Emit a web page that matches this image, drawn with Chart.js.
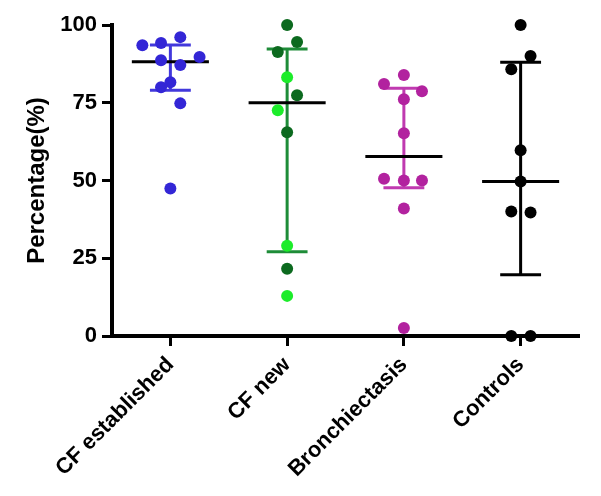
<!DOCTYPE html>
<html>
<head>
<meta charset="utf-8">
<script src="https://cdn.jsdelivr.net/npm/chart.js@4.4.1/dist/chart.umd.min.js"></script>
<style>
  body { margin: 0; background: #fff; }
  canvas { display: block; }
</style>
</head>
<body>
<canvas id="myChart" width="601" height="496"></canvas>
<script>
// categories + tick labels
const categories = ['CF established', 'CF new', 'Bronchiectasis', 'Controls'];
const yTicks = [0, 25, 50, 75, 100];

// individual values (%)
const cfEstablished = [93.5, 94.2, 96.1, 88.7, 87.1, 89.7, 80, 81.6, 74.8, 47.4];
const cfNewDark = [100, 94.5, 91.3, 77.4, 65.5, 21.6];
const cfNewLight = [83.2, 72.6, 29, 12.9];
const bronchiectasis = [83.9, 81, 78.7, 76.1, 65.2, 50.6, 50, 50, 41, 2.6];
const controls = [100, 90, 85.8, 59.7, 49.7, 40, 39.7, 0, 0];

// median and interquartile range per group
const medians = [88.2, 75, 57.7, 49.7];
const upper = [93.6, 92.3, 79.7, 88];
const lower = [79, 27.1, 47.7, 19.7];

// sideways spread of the dots (fraction of a category), so equal values don't hide each other
const spread = {
  cfEstablished: [-0.24, -0.08, 0.085, -0.08, 0.085, 0.25, -0.08, 0, 0.085, 0],
  cfNewDark: [0, 0.085, -0.08, 0.085, 0, 0],
  cfNewLight: [0, -0.08, 0, 0],
  bronchiectasis: [0, -0.17, 0.155, 0, 0, -0.17, 0, 0.155, 0, 0],
  controls: [0, 0.085, -0.08, 0, 0, -0.08, 0.085, -0.08, 0.085]
};

const whiskerColors = ['#4238dc', '#1e8c38', '#c03ab0', '#000000'];

function pts(values, group, offs) {
  return values.map((v, i) => ({ x: group + offs[i], y: v }));
}

// median line + IQR whiskers drawn under the dots
const statLines = {
  id: 'statLines',
  beforeDatasetsDraw(chart) {
    const { ctx, scales: { x, y } } = chart;
    ctx.save();
    ctx.lineCap = 'butt';
    categories.forEach((c, i) => {
      const cx = x.getPixelForValue(i);
      const cap = x.getPixelForValue(i + 0.175) - cx;
      const med = x.getPixelForValue(i + 0.33) - cx;
      const yu = y.getPixelForValue(upper[i]);
      const yl = y.getPixelForValue(lower[i]);
      const ym = y.getPixelForValue(medians[i]);

      ctx.strokeStyle = whiskerColors[i];
      ctx.lineWidth = 3;
      ctx.beginPath();
      ctx.moveTo(cx, yu); ctx.lineTo(cx, yl);
      ctx.moveTo(cx - cap, yu); ctx.lineTo(cx + cap, yu);
      ctx.moveTo(cx - cap, yl); ctx.lineTo(cx + cap, yl);
      ctx.stroke();

      ctx.strokeStyle = '#000';
      ctx.beginPath();
      ctx.moveTo(cx - med, ym); ctx.lineTo(cx + med, ym);
      ctx.stroke();
    });
    ctx.restore();
  }
};

const dot = (color) => ({
  pointRadius: 6,
  pointHoverRadius: 6,
  backgroundColor: color,
  borderColor: color,
  borderWidth: 0,
  clip: false
});

const ctx = document.getElementById('myChart');
const font = { family: 'Arial, "Liberation Sans", sans-serif', weight: 'bold' };

const myChart = new Chart(ctx, {
  type: 'scatter',
  data: {
    datasets: [
      { label: categories[0], data: pts(cfEstablished, 0, spread.cfEstablished), ...dot('#3326d6') },
      { label: categories[1], data: pts(cfNewDark, 1, spread.cfNewDark), ...dot('#0c6a1f') },
      { label: categories[1], data: pts(cfNewLight, 1, spread.cfNewLight), ...dot('#1cec2a') },
      { label: categories[2], data: pts(bronchiectasis, 2, spread.bronchiectasis), ...dot('#b2229f') },
      { label: categories[3], data: pts(controls, 3, spread.controls), ...dot('#000000') }
    ]
  },
  options: {
    responsive: false,
    animation: false,
    layout: { padding: { top: 25, right: 22, left: 0, bottom: 0 } },
    plugins: {
      legend: { display: false },
      tooltip: { enabled: false }
    },
    scales: {
      x: {
        type: 'linear',
        min: -0.5,
        max: 3.5,
        afterBuildTicks: (s) => { s.ticks = categories.map((c, i) => ({ value: i })); },
        afterFit: (s) => { s.height = 160; },
        grid: { drawOnChartArea: false, tickLength: 10, tickWidth: 3, tickColor: '#000' },
        border: { display: true, width: 4, color: '#000' },
        ticks: {
          color: '#000',
          font: { ...font, size: 22 },
          minRotation: 45,
          maxRotation: 45,
          padding: 6,
          callback: (v) => categories[v]
        }
      },
      y: {
        min: 0,
        max: 100,
        afterBuildTicks: (s) => { s.ticks = yTicks.map(v => ({ value: v })); },
        afterFit: (s) => { s.width = 112; },
        grid: { drawOnChartArea: false, tickLength: 10, tickWidth: 3, tickColor: '#000' },
        border: { display: true, width: 4, color: '#000' },
        ticks: { color: '#000', font: { ...font, size: 22 }, padding: 5 },
        title: {
          display: true,
          text: 'Percentage(%)',
          color: '#000',
          font: { ...font, size: 24 },
          padding: { top: 23, bottom: 0 }
        }
      }
    }
  },
  plugins: [statLines]
});
</script>
</body>
</html>
